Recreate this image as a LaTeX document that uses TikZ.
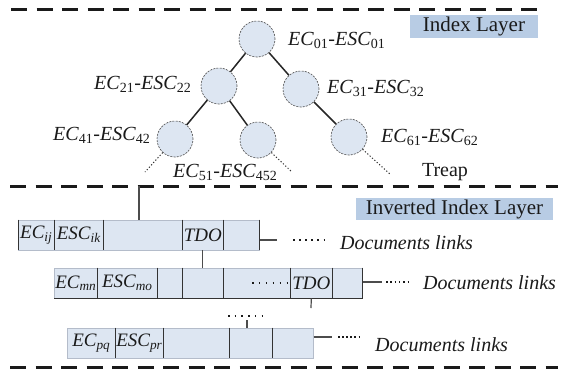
\documentclass[tikz,border=0pt]{standalone}
\usepackage{fontspec}
\setmainfont{Liberation Serif}

\definecolor{cellblue}{HTML}{DDE6F2}
\definecolor{layerblue}{HTML}{B8CCE4}
\definecolor{cellline}{HTML}{B4BCCA}
\definecolor{ink}{HTML}{1A1A1A}

% font size helper and the key-pair labels of the treap
\newcommand\fsz[1]{\fontsize{#1}{#1}\selectfont}
\newcommand\ecpair[2]{\textit{EC}\textsubscript{#1}-\textit{ESC}\textsubscript{#2}}

\tikzset{
  sep/.style={line width=3pt, dash pattern=on 16pt off 9.5pt, draw=ink},
  tnode/.style={circle, minimum size=36pt, inner sep=0pt, fill=cellblue,
                draw=black!70, line width=0.6pt, dash pattern=on 2pt off 1.2pt},
  tedge/.style={line width=1.5pt, draw=black!85},
  leafdots/.style={line width=1pt, dash pattern=on 1.2pt off 2pt, draw=black!80},
  lbl/.style={font=\fsz{20}, inner sep=0pt, text=ink, anchor=west},
  layerbox/.style={fill=layerblue, font=\fsz{21}, inner sep=0pt, text=ink},
  cell/.style={rectangle, fill=cellblue, draw=cellline, line width=0.6pt,
               minimum height=30pt, inner sep=0pt, anchor=west,
               font=\fsz{19}\itshape, text=ink},
  divider/.style={line width=1pt, draw=black!80},
  link/.style={line width=1.2pt, draw=black!70},
  dotrun/.style={line width=1.6pt, draw=ink},
  doclink/.style={font=\fsz{20}\itshape, inner sep=0pt, anchor=west, text=ink},
}

\begin{document}
\begin{tikzpicture}[x=1pt,y=-1pt]
\fill[white] (0,0) rectangle (561,373);
\useasboundingbox (0,0) rectangle (561,373);

% ---------- layer separators ----------
\coordinate (s1a) at (11,9);    \coordinate (s1b) at (540,9);
\coordinate (s2a) at (10,186);  \coordinate (s2b) at (558,186);
\coordinate (s3a) at (10,367);  \coordinate (s3b) at (558,367);
\draw[sep] (s1a) -- (s1b);
\draw[sep] (s2a) -- (s2b);
\draw[sep] (s3a) -- (s3b);

% ---------- index layer: treap ----------
\node[layerbox, minimum width=128pt, minimum height=23pt] (idx) at (474,26.5) {Index Layer};

\node[tnode] (t1) at (257,39)  {};
\node[tnode] (t2) at (219,86)  {};
\node[tnode] (t3) at (301,89)  {};
\node[tnode] (t4) at (175,139) {};
\node[tnode] (t5) at (258,140) {};
\node[tnode] (t6) at (349,137) {};

\draw[tedge] (t1) -- (t2);
\draw[tedge] (t1) -- (t3);
\draw[tedge] (t2) -- (t4);
\draw[tedge] (t2) -- (t5);
\draw[tedge] (t3) -- (t6);

\coordinate (e4) at (145,172);
\coordinate (e5) at (292,172);
\coordinate (e6) at (391,175);
\draw[leafdots] (t4) -- (e4);
\draw[leafdots] (t5) -- (e5);
\draw[leafdots] (t6) -- (e6);

\node[lbl] (l1) at (288,40)  {\ecpair{01}{01}};
\node[lbl] (l2) at (94,84)   {\ecpair{21}{22}};
\node[lbl] (l3) at (327,88)  {\ecpair{31}{32}};
\node[lbl] (l4) at (53,135)  {\ecpair{41}{42}};
\node[lbl] (l6) at (381,137) {\ecpair{61}{62}};
\node[lbl] (l5) at (173,172) {\ecpair{51}{452}};
\node[font=\fsz{20}, inner sep=0pt, text=ink] (treap) at (445,172) {Treap};

% ---------- inverted index layer ----------
\node[layerbox, minimum width=197pt, minimum height=22pt] (inv) at (454.5,209) {Inverted Index Layer};

% first posting list
\node[cell, minimum width=36pt] (r1a) at (18,235)  {EC\textsubscript{ij}};
\node[cell, minimum width=49pt] (r1b) at (54,235)  {ESC\textsubscript{ik}};
\node[cell, minimum width=79pt] (r1c) at (103,235) {};
\node[cell, minimum width=41pt] (r1d) at (182,235) {TDO};
\node[cell, minimum width=36pt] (r1e) at (223,235) {};
\foreach \c in {r1a,r1b,r1c,r1d,r1e}
  \draw[divider] (\c.north west) -- (\c.south west);
\draw[divider] (r1e.north east) -- (r1e.south east);

% second posting list
\node[cell, minimum width=43pt] (r2a) at (54,283)  {EC\textsubscript{mn}};
\node[cell, minimum width=60pt] (r2b) at (97,283)  {ESC\textsubscript{mo}};
\node[cell, minimum width=25pt] (r2c) at (157,283) {};
\node[cell, minimum width=41pt] (r2d) at (182,283) {};
\node[cell, minimum width=67pt] (r2e) at (223,283) {};
\node[cell, minimum width=42pt] (r2f) at (290,283) {TDO};
\node[cell, minimum width=30pt] (r2g) at (332,283) {};
\foreach \c in {r2b,r2c,r2d,r2e,r2f,r2g}
  \draw[divider] (\c.north west) -- (\c.south west);
\draw[divider] (r2g.north east) -- (r2g.south east);
\draw[divider] (r2a.south west) -- (r2g.south east);

% third posting list
\node[cell, minimum width=48pt] (r3a) at (67,343)  {EC\textsubscript{pq}};
\node[cell, minimum width=48pt] (r3b) at (115,343) {ESC\textsubscript{pr}};
\node[cell, minimum width=66pt] (r3c) at (163,343) {};
\node[cell, minimum width=43pt] (r3d) at (229,343) {};
\node[cell, minimum width=41pt] (r3e) at (272,343) {};
\foreach \c in {r3b,r3c,r3d,r3e}
  \draw[divider] (\c.north west) -- (\c.south west);

% links between the layers and the lists
\coordinate (tap) at (139,186);
\draw[link] (tap) -- (tap |- r1c.north);
\draw[link] (r1d.south) -- (r1d.south |- r2d.north);
\coordinate (r2tick) at (311,308);
\draw[link] (r2f.south) -- (r2tick);
\coordinate (r3tick) at (247,320);
\draw[link] (r3tick) -- (r3tick |- r3d.north);

% elided entries
\coordinate (g1) at (252,283); \coordinate (g2) at (288,283);
\draw[dotrun, dash pattern=on 1.5pt off 5.4pt] (g1) -- (g2);
\coordinate (g3) at (228,316); \coordinate (g4) at (262,316);
\draw[dotrun, dash pattern=on 1.5pt off 5.2pt] (g3) -- (g4);

% document links
\coordinate (k1) at (277,240);
\draw[link] (k1 -| r1e.east) -- (k1);
\coordinate (d1a) at (293,240); \coordinate (d1b) at (325,240);
\draw[dotrun, dash pattern=on 1.5pt off 4.6pt] (d1a) -- (d1b);
\node[doclink] (doc1) at (340,243) {Documents links};

\coordinate (k2) at (382,282);
\draw[link] (k2 -| r2g.east) -- (k2);
\coordinate (d2a) at (386,282); \coordinate (d2b) at (409,282);
\draw[dotrun, dash pattern=on 1.5pt off 2.8pt] (d2a) -- (d2b);
\node[doclink] (doc2) at (423,283) {Documents links};

\coordinate (k3) at (332,337);
\draw[link] (k3 -| r3e.east) -- (k3);
\coordinate (d3a) at (338,337); \coordinate (d3b) at (360,337);
\draw[dotrun, dash pattern=on 1.5pt off 2.6pt] (d3a) -- (d3b);
\node[doclink] (doc3) at (375,345) {Documents links};
\end{tikzpicture}
\end{document}
